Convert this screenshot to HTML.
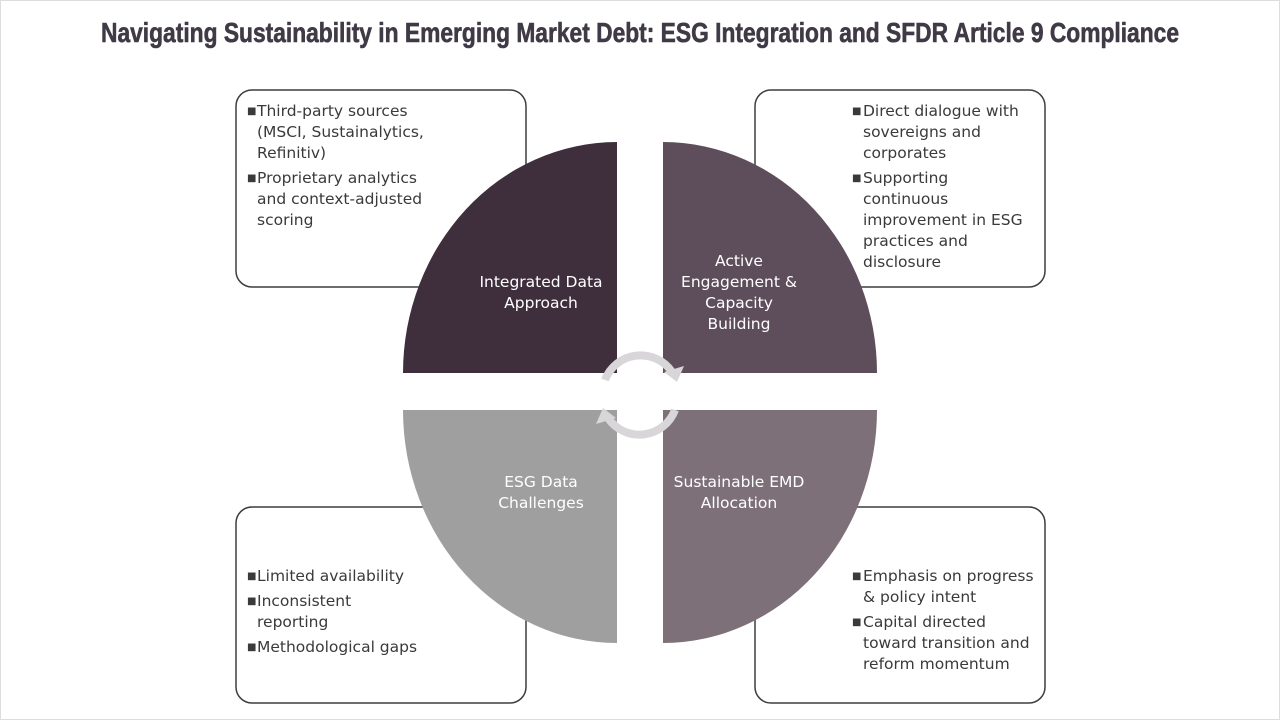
<!DOCTYPE html>
<html><head><meta charset="utf-8"><style>
body{margin:0;width:1280px;height:720px;background:#fff;overflow:hidden}
svg{display:block}
.t{font-family:"DejaVu Sans","Liberation Sans",sans-serif;font-size:15.5px;fill:#3a3a3a}
.b{font-size:10px}
.w{font-family:"DejaVu Sans","Liberation Sans",sans-serif;font-size:15.5px;fill:#fff}
</style></head><body>
<svg width="1280" height="720" viewBox="0 0 1280 720">
<rect x="0.5" y="0.5" width="1279" height="719" fill="#fff" stroke="#ddd"/>
<text x="640" y="42" text-anchor="middle" font-family="'Liberation Sans',sans-serif" font-weight="bold" font-size="28" fill="#3f3a45" stroke="#3f3a45" stroke-width="0.6" textLength="1078" lengthAdjust="spacingAndGlyphs">Navigating Sustainability in Emerging Market Debt: ESG Integration and SFDR Article 9 Compliance</text>
<g fill="#fff" stroke="#3d3d3d" stroke-width="1.5">
<rect x="236" y="90" width="290" height="197" rx="16"/>
<rect x="755" y="90" width="290" height="197" rx="16"/>
<rect x="236" y="507" width="290" height="196" rx="16"/>
<rect x="755" y="507" width="290" height="196" rx="16"/>
</g>
<path d="M617 373 L403 373 A214 231 0 0 1 617 142 Z" fill="#3f2f3d"/>
<path d="M663 373 L663 142 A214 231 0 0 1 877 373 Z" fill="#5e4e5c"/>
<path d="M617 410 L617 643 A214 233 0 0 1 403 410 Z" fill="#a09fa0"/>
<path d="M663 410 L877 410 A214 233 0 0 1 663 643 Z" fill="#7d7079"/>
<g fill="none" stroke="#d8d6d8" stroke-width="8">
<path d="M605 380 A38 38 0 0 1 672 372"/>
<path d="M675 410 A38 38 0 0 1 608 418"/>
</g>
<g fill="#d8d6d8">
<polygon points="664,372 684,366 677,382"/>
<polygon points="616,418 596,424 603,408"/>
</g>
<g class="w" text-anchor="middle">
<text x="541" y="287">Integrated Data</text><text x="541" y="308">Approach</text>
<text x="739" y="266">Active</text><text x="739" y="287">Engagement &amp;</text><text x="739" y="308">Capacity</text><text x="739" y="329">Building</text>
<text x="541" y="487">ESG Data</text><text x="541" y="508">Challenges</text>
<text x="739" y="487">Sustainable EMD</text><text x="739" y="508">Allocation</text>
</g>
<g class="t">
<text class="b" x="247" y="114">■</text><text x="257" y="116">Third-party sources</text>
<text x="257" y="137">(MSCI, Sustainalytics,</text><text x="257" y="158">Refinitiv)</text>
<text class="b" x="247" y="181">■</text><text x="257" y="183">Proprietary analytics</text>
<text x="257" y="204">and context-adjusted</text><text x="257" y="225">scoring</text>

<text class="b" x="852" y="114">■</text><text x="863" y="116">Direct dialogue with</text>
<text x="863" y="137">sovereigns and</text><text x="863" y="158">corporates</text>
<text class="b" x="852" y="181">■</text><text x="863" y="183">Supporting</text>
<text x="863" y="204">continuous</text><text x="863" y="225">improvement in ESG</text>
<text x="863" y="246">practices and</text><text x="863" y="267">disclosure</text>

<text class="b" x="247" y="579">■</text><text x="257" y="581">Limited availability</text>
<text class="b" x="247" y="604">■</text><text x="257" y="606">Inconsistent</text>
<text x="257" y="627">reporting</text>
<text class="b" x="247" y="650">■</text><text x="257" y="652">Methodological gaps</text>

<text class="b" x="852" y="579">■</text><text x="863" y="581">Emphasis on progress</text>
<text x="863" y="602">&amp; policy intent</text>
<text class="b" x="852" y="625">■</text><text x="863" y="627">Capital directed</text>
<text x="863" y="648">toward transition and</text><text x="863" y="669">reform momentum</text>
</g>
</svg>
</body></html>
